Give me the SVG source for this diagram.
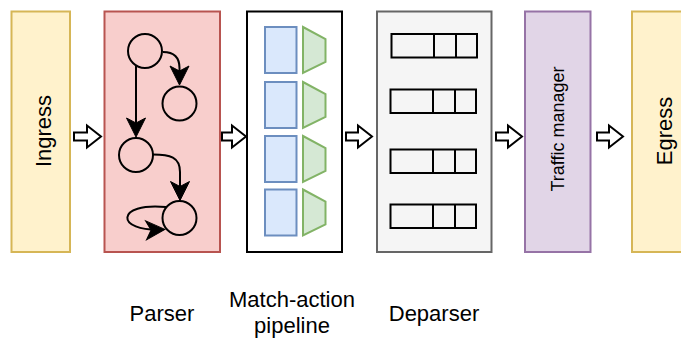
<svg xmlns="http://www.w3.org/2000/svg" width="681" height="341" viewBox="0 0 681 341">
<defs>
<style>
.lbl{font-family:"Liberation Sans",Arial,Helvetica,sans-serif;fill:#000;text-anchor:middle}
.box{stroke-width:2}
.tbl{fill:#b3b3b3;fill-opacity:0;stroke:#000;stroke-width:2}
.mat{fill:#dae8fc;stroke:#6c8ebf;stroke-width:2}
.act{fill:#d5e8d4;stroke:#82b366;stroke-width:2;stroke-linejoin:miter}
.st{fill:none;stroke:#000;stroke-width:2}
.edge{fill:none;stroke:#000;stroke-width:2}
.blk{fill:#fff;stroke:#000;stroke-width:2;stroke-linejoin:miter}
</style>
<marker id="ah" markerUnits="userSpaceOnUse" orient="auto" refX="0" refY="0" markerWidth="30" markerHeight="30" overflow="visible">
<path d="M2,0 L-17,-9.5 L-12,0 L-17,9.5 Z" fill="#000" stroke="#000" stroke-width="1" stroke-linejoin="miter"/>
</marker>
</defs>

<g id="ingress">
<rect class="box" x="11.5" y="11.5" width="58.5" height="240.5" fill="#fff2cc" stroke="#d6b656"/>
<text class="lbl" font-size="22" transform="translate(50.5,131) rotate(-90)">Ingress</text>
</g>

<g id="parser">
<rect class="box" x="104.5" y="11.5" width="115.5" height="240.5" fill="#f8cecc" stroke="#b85450"/>
<circle class="st" cx="145" cy="51" r="17"/>
<circle class="st" cx="179.5" cy="103.5" r="17"/>
<circle class="st" cx="136" cy="155" r="17"/>
<circle class="st" cx="179.5" cy="218" r="17"/>
</g>

<g id="match-action">
<rect class="box" x="247" y="11.5" width="95" height="240.5" fill="#fff" stroke="#000"/>
<rect class="mat" x="265" y="27" width="31.5" height="46"/>
<rect class="mat" x="265" y="82" width="31.5" height="46"/>
<rect class="mat" x="265" y="136" width="31.5" height="46"/>
<rect class="mat" x="265" y="189.5" width="31.5" height="46"/>
<polygon class="act" points="303,27 325.5,39 325.5,62 303,73"/>
<polygon class="act" points="303,82 325.5,94 325.5,117 303,128"/>
<polygon class="act" points="303,136 325.5,148 325.5,171 303,182"/>
<polygon class="act" points="303,189.5 325.5,201.5 325.5,224.5 303,235.5"/>
</g>

<g id="deparser">
<rect class="box" x="377" y="11.5" width="114.5" height="240.5" fill="#f5f5f5" stroke="#666666"/>
<rect class="tbl" x="391.5" y="34" width="85.5" height="23.5"/>
<path class="st" d="M434,34 V57.5 M456,34 V57.5"/>
<rect class="tbl" x="390.5" y="89.5" width="85.5" height="23.5"/>
<path class="st" d="M433,89.5 V113 M455,89.5 V113"/>
<rect class="tbl" x="390.5" y="149.5" width="85.5" height="23.5"/>
<path class="st" d="M433,149.5 V173 M455,149.5 V173"/>
<rect class="tbl" x="390.5" y="204.5" width="85.5" height="23.5"/>
<path class="st" d="M433,204.5 V228 M455,204.5 V228"/>
</g>

<g id="traffic-manager">
<rect class="box" x="525" y="11.5" width="65.5" height="240.5" fill="#e1d5e7" stroke="#9673a6"/>
<text class="lbl" font-size="18" transform="translate(564,129) rotate(-90)">Traffic manager</text>
</g>

<g id="egress">
<rect class="box" x="632" y="11.5" width="60" height="240.5" fill="#fff2cc" stroke="#d6b656"/>
<text class="lbl" font-size="22" transform="translate(671.5,131) rotate(-90)">Egress</text>
</g>

<g id="label-parser"><text class="lbl" font-size="22" x="162" y="321">Parser</text></g>
<g id="label-match"><text class="lbl" font-size="22" x="292" y="307">Match-action</text><text class="lbl" font-size="22" x="292" y="333">pipeline</text></g>
<g id="label-deparser"><text class="lbl" font-size="22" x="434" y="321">Deparser</text></g>

<g id="connectors">
<path class="edge" marker-end="url(#ah)" d="M163,52 C174,52 179.5,57 179.5,68 L179.5,83"/>
<path class="edge" marker-end="url(#ah)" d="M136,66 L136,135"/>
<path class="edge" marker-end="url(#ah)" d="M153,154.5 C170,154.5 180,157 180,172 L180,198.5"/>
<path class="edge" marker-end="url(#ah)" d="M166,207 C116,202 114,232 163,229.5"/>
<path class="blk" d="M74,132.5 H87 V125.5 L101,136.5 L87,147.5 V140.5 H74 Z"/>
<path class="blk" d="M222,132.5 H232 V125.5 L246,136.5 L232,147.5 V140.5 H222 Z"/>
<path class="blk" d="M346,132.5 H358 V125.5 L372,136.5 L358,147.5 V140.5 H346 Z"/>
<path class="blk" d="M496,132.5 H508 V125.5 L522,136.5 L508,147.5 V140.5 H496 Z"/>
<path class="blk" d="M597,132.5 H609 V125.5 L623,136.5 L609,147.5 V140.5 H597 Z"/>
</g>
</svg>
